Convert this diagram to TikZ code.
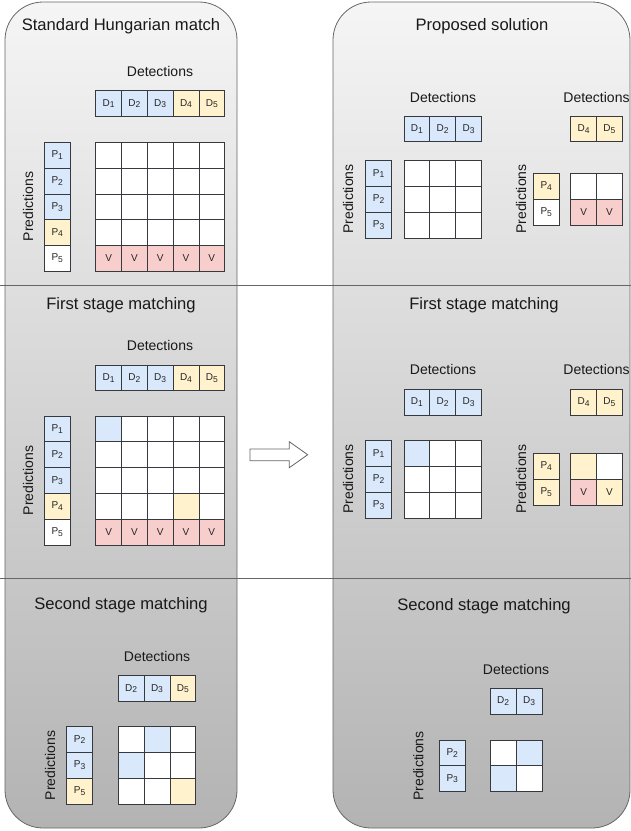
\documentclass[tikz,border=0pt]{standalone}
\usepackage{fontspec}
\setmainfont{Liberation Sans}
\definecolor{blu}{HTML}{DAE8FC}
\definecolor{yel}{HTML}{FFF2CC}
\definecolor{redc}{HTML}{F8CECC}
\definecolor{panelstroke}{HTML}{666666}
\definecolor{gtop}{HTML}{F5F5F5}
\definecolor{gbot}{HTML}{B3B3B3}
\definecolor{cellline}{HTML}{36393D}
\newcommand\sbs[1]{\raisebox{-1.7pt}{\fontsize{8.5}{8.5}\selectfont #1}}
\newcommand\cellrow[4]{\foreach \f/\t [count=\i] in {#4} {\node[cellbox,fill=\f] (#1\i) at ({#2+(\i-0.5)*25.8},{#3+0.5*25.8}) {\t};}}
\newcommand\cellcol[4]{\foreach \f/\t [count=\i] in {#4} {\node[cellbox,fill=\f] (#1\i) at ({#2+0.5*25.8},{#3+(\i-0.5)*25.8}) {\t};}}
\tikzset{
  cellbox/.style={draw=cellline, line width=0.8pt, minimum width=25.8pt, minimum height=25.8pt, inner sep=0pt, outer sep=0pt, font=\fontsize{10}{10}\selectfont, text=black!85},
  paneltitle/.style={font=\fontsize{16.6}{20}\selectfont, text=black!90, inner sep=0pt},
  lab/.style={font=\fontsize{14}{16}\selectfont, text=black!90, inner sep=0pt},
  predlab/.style={lab, rotate=90},
  panel/.style={draw=panelstroke, line width=0.8pt, rounded corners=38pt, top color=gtop, bottom color=gbot},
  divider/.style={draw=panelstroke, line width=1pt},
  blockarrow/.style={draw=panelstroke, fill=white, line width=0.8pt, line join=miter}
}
\begin{document}
\begin{tikzpicture}[x=1pt,y=-1pt]
\useasboundingbox (0,0) rectangle (631,831);
% panels
\draw[panel] (5,2) rectangle (237,828);
\draw[panel] (333,2) rectangle (630,828);
% dividers
\draw[divider] (0,285) -- (631,285);
\draw[divider] (0,578) -- (631,578);
% arrow
\draw[blockarrow] (250,449) -- (289.3,449) -- (289.3,441.7) -- (307.7,454.7) -- (289.3,467.7) -- (289.3,460.7) -- (250,460.7) -- cycle;

% ===== Left, section 1 =====
\node[paneltitle] (tL1) at (121,26) {Standard Hungarian match};
\node[lab] (dL1) at (160,71) {Detections};
\node[predlab] (pL1) at (28,206.5) {Predictions};
\cellrow{L1d}{95.7}{90.7}{blu/D\sbs{1},blu/D\sbs{2},blu/D\sbs{3},yel/D\sbs{4},yel/D\sbs{5}}
\cellcol{L1p}{44.3}{142.3}{blu/P\sbs{1},blu/P\sbs{2},blu/P\sbs{3},yel/P\sbs{4},white/P\sbs{5}}
\cellrow{L1ga}{95.7}{142.3}{white/{},white/{},white/{},white/{},white/{}}
\cellrow{L1gb}{95.7}{168.1}{white/{},white/{},white/{},white/{},white/{}}
\cellrow{L1gc}{95.7}{193.9}{white/{},white/{},white/{},white/{},white/{}}
\cellrow{L1gd}{95.7}{219.7}{white/{},white/{},white/{},white/{},white/{}}
\cellrow{L1ge}{95.7}{245.5}{redc/V,redc/V,redc/V,redc/V,redc/V}

% ===== Left, section 2 =====
\node[paneltitle] (tL2) at (121,305) {First stage matching};
\node[lab] (dL2) at (160,345) {Detections};
\node[predlab] (pL2) at (28,480.5) {Predictions};
\cellrow{L2d}{95.7}{365}{blu/D\sbs{1},blu/D\sbs{2},blu/D\sbs{3},yel/D\sbs{4},yel/D\sbs{5}}
\cellcol{L2p}{44.3}{416}{blu/P\sbs{1},blu/P\sbs{2},blu/P\sbs{3},yel/P\sbs{4},white/P\sbs{5}}
\cellrow{L2ga}{95.7}{416}{blu/{},white/{},white/{},white/{},white/{}}
\cellrow{L2gb}{95.7}{441.8}{white/{},white/{},white/{},white/{},white/{}}
\cellrow{L2gc}{95.7}{467.6}{white/{},white/{},white/{},white/{},white/{}}
\cellrow{L2gd}{95.7}{493.4}{white/{},white/{},white/{},yel/{},white/{}}
\cellrow{L2ge}{95.7}{519.2}{redc/V,redc/V,redc/V,redc/V,redc/V}

% ===== Left, section 3 =====
\node[paneltitle] (tL3) at (121,605) {Second stage matching};
\node[lab] (dL3) at (157,656) {Detections};
\node[predlab] (pL3) at (50,765.5) {Predictions};
\cellrow{L3d}{118.3}{675.7}{blu/D\sbs{2},blu/D\sbs{3},yel/D\sbs{5}}
\cellcol{L3p}{66.7}{726.7}{blu/P\sbs{2},blu/P\sbs{3},yel/P\sbs{5}}
\cellrow{L3ga}{118.3}{726.7}{white/{},blu/{},white/{}}
\cellrow{L3gb}{118.3}{752.5}{blu/{},white/{},white/{}}
\cellrow{L3gc}{118.3}{778.3}{white/{},white/{},yel/{}}

% ===== Right, section 1 =====
\node[paneltitle] (tR1) at (482,26) {Proposed solution};
\node[lab] (dR1a) at (443,97) {Detections};
\node[lab] (dR1b) at (596.5,97) {Detections};
\node[predlab] (pR1a) at (348,199) {Predictions};
\node[predlab] (pR1b) at (521,199) {Predictions};
\cellrow{R1da}{404}{116}{blu/D\sbs{1},blu/D\sbs{2},blu/D\sbs{3}}
\cellcol{R1pa}{365.7}{160.7}{blu/P\sbs{1},blu/P\sbs{2},blu/P\sbs{3}}
\cellrow{R1gaa}{404}{160.7}{white/{},white/{},white/{}}
\cellrow{R1gab}{404}{186.5}{white/{},white/{},white/{}}
\cellrow{R1gac}{404}{212.3}{white/{},white/{},white/{}}
\cellrow{R1db}{570.7}{116}{yel/D\sbs{4},yel/D\sbs{5}}
\cellcol{R1pb}{533.3}{173.3}{yel/P\sbs{4},white/P\sbs{5}}
\cellrow{R1gba}{570.7}{173.3}{white/{},white/{}}
\cellrow{R1gbb}{570.7}{199.1}{redc/V,redc/V}

% ===== Right, section 2 =====
\node[paneltitle] (tR2) at (484,305) {First stage matching};
\node[lab] (dR2a) at (443,369) {Detections};
\node[lab] (dR2b) at (596.5,369) {Detections};
\node[predlab] (pR2a) at (348,479) {Predictions};
\node[predlab] (pR2b) at (521,479) {Predictions};
\cellrow{R2da}{404}{389.3}{blu/D\sbs{1},blu/D\sbs{2},blu/D\sbs{3}}
\cellcol{R2pa}{365.7}{440.7}{blu/P\sbs{1},blu/P\sbs{2},blu/P\sbs{3}}
\cellrow{R2gaa}{404}{440.7}{blu/{},white/{},white/{}}
\cellrow{R2gab}{404}{466.5}{white/{},white/{},white/{}}
\cellrow{R2gac}{404}{492.3}{white/{},white/{},white/{}}
\cellrow{R2db}{570.7}{389.3}{yel/D\sbs{4},yel/D\sbs{5}}
\cellcol{R2pb}{533.3}{453.3}{yel/P\sbs{4},yel/P\sbs{5}}
\cellrow{R2gba}{570.7}{453.3}{yel/{},white/{}}
\cellrow{R2gbb}{570.7}{479.1}{redc/V,yel/V}

% ===== Right, section 3 =====
\node[paneltitle] (tR3) at (484,606) {Second stage matching};
\node[lab] (dR3) at (516,669) {Detections};
\node[predlab] (pR3) at (418.3,766) {Predictions};
\cellrow{R3d}{490.3}{688.3}{blu/D\sbs{2},blu/D\sbs{3}}
\cellcol{R3p}{439.3}{740}{blu/P\sbs{2},blu/P\sbs{3}}
\cellrow{R3ga}{490.3}{740}{white/{},blu/{}}
\cellrow{R3gb}{490.3}{765.8}{blu/{},white/{}}
\end{tikzpicture}
\end{document}
